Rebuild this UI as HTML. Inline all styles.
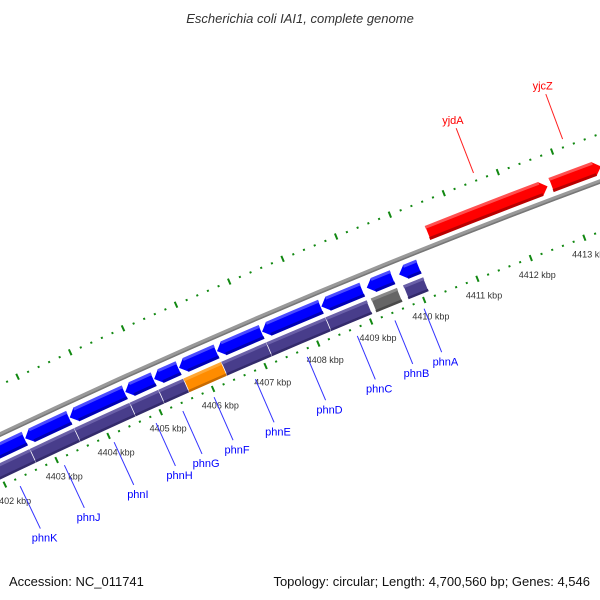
<!DOCTYPE html>
<html><head><meta charset="utf-8"><style>
html,body{margin:0;padding:0;background:#fff}
svg{display:block}
</style></head><body>
<svg id="map" width="600" height="600" viewBox="0 0 600 600" xmlns="http://www.w3.org/2000/svg">
<rect x="0" y="0" width="600" height="600" fill="#fff"/>
<text x="300" y="23" text-anchor="middle" font-family="Liberation Sans, sans-serif" font-size="13" font-style="italic" fill="#333">Escherichia coli IAI1, complete genome</text>
<g id="layer"></g>
<text x="9" y="586" font-family="Liberation Sans, sans-serif" font-size="13" fill="#111">Accession: NC_011741</text>
<text x="590" y="586" text-anchor="end" font-family="Liberation Sans, sans-serif" font-size="13" fill="#111">Topology: circular; Length: 4,700,560 bp; Genes: 4,546</text>
</svg>
<script>
// ---- data ----
const revGeneNames = ["phnK","phnJ","phnI","phnH","phnG","phnF","phnE","phnD","phnC","phnB","phnA"];
const revGeneStarts = [4401800,4402657,4403511,4404573,4405123,4405598,4406318,4407172,4408291,4409145,4409752];
const revGeneEnds   = [4402657,4403511,4404573,4405123,4405598,4406318,4407172,4408291,4409069,4409638,4410131];
const revGeneCog    = ["p","p","p","p","p","o","p","p","p","g","p"];
const fwdGeneNames = ["yjdA","yjcZ"];
const fwdGeneStarts = [4410485,4412780];
const fwdGeneEnds   = [4412723,4413710];
const tickStartBp = 4400000;
const tickEndBp = 4416000;
const minorStepBp = 200;
const majorStepBp = 1000;

// ---- geometry ----
const cx = 3108, cy = 6966;
const refBp = 4410000, refDeg = -21.93, degPerBp = 0.0004567;
function ang(bp){ return (refDeg + (bp - refBp) * degPerBp) * Math.PI / 180; }
function pt(bp, r){ const a = ang(bp); return [cx + r*Math.sin(a), cy - r*Math.cos(a)]; }
function f(p){ return p[0].toFixed(2)+","+p[1].toFixed(2); }
const NS = "http://www.w3.org/2000/svg";
const layer = document.getElementById("layer");
function mk(tag, attrs){ const e = document.createElementNS(NS, tag); for (const k in attrs) e.setAttribute(k, attrs[k]); layer.appendChild(e); return e; }
function arcBand(b1, b2, r0, r1){
  return "M"+f(pt(b1,r1))+" A"+r1+","+r1+" 0 0 1 "+f(pt(b2,r1))+" L"+f(pt(b2,r0))+" A"+r0+","+r0+" 0 0 0 "+f(pt(b1,r0))+" Z";
}
function arrow(b1, b2, r0, r1, dir, head){
  const rm = (r0+r1)/2;
  if (dir < 0){
    const h = Math.min(head, (b2-b1)*0.6);
    return "M"+f(pt(b1+h,r1))+" A"+r1+","+r1+" 0 0 1 "+f(pt(b2,r1))+" L"+f(pt(b2,r0))+" A"+r0+","+r0+" 0 0 0 "+f(pt(b1+h,r0))+" L"+f(pt(b1,rm))+" Z";
  } else {
    const h = Math.min(head, (b2-b1)*0.6);
    return "M"+f(pt(b1,r1))+" A"+r1+","+r1+" 0 0 1 "+f(pt(b2-h,r1))+" L"+f(pt(b2,rm))+" L"+f(pt(b2-h,r0))+" A"+r0+","+r0+" 0 0 0 "+f(pt(b1,r0))+" Z";
  }
}

// ---- tick rings ----
const rings = [7186, 7278];
rings.forEach((rc, ri) => {
  for (let bp = tickStartBp; bp <= tickEndBp; bp += minorStepBp){
    const major = (bp % majorStepBp) === 0;
    const half = major ? 3.2 : 1;
    const p1 = pt(bp, rc - half), p2 = pt(bp, rc + half);
    const t = mk("line", {x1:p1[0], y1:p1[1], x2:p2[0], y2:p2[1], stroke:"#118811", "stroke-width": 2});
    
    
    if (major && ri === 0){
      const lp = pt(bp, 7168);
      const tx = mk("text", {x:lp[0], y:lp[1]+3, "text-anchor":"middle", "font-family":"Liberation Sans, sans-serif", "font-size":"9", fill:"#333"});
      tx.textContent = (bp/1000) + " kbp";
      
      
    }
  }
});

// ---- backbone ----
const bb = mk("path", {d: arcBand(tickStartBp, tickEndBp, 7231, 7235.5), fill:"#999"});


const bb2 = mk("path", {d: arcBand(tickStartBp, tickEndBp, 7231, 7232.5), fill:"#777"});



// ---- reverse genes (blue) + COG (purple) ----
const cogFill = {p:"#483d8b", o:"#ff8c00", g:"#666666"};
const cogLight = {p:"#6a60a8", o:"#ffa733", g:"#888888"};
const cogDark = {p:"#332a6b", o:"#c86a00", g:"#4a4a4a"};
revGeneNames.forEach((name, i) => {
  const b1 = revGeneStarts[i], b2 = revGeneEnds[i];
  const g = mk("path", {d: arrow(b1, b2, 7211.5, 7226.5, -1, 130), fill:"#0000ff", stroke:"#fff", "stroke-width":"0.7"});
  
  
  const hl = mk("path", {d: arcBand(b1+130, b2, 7223.5, 7226.5), fill:"#4b4bff"});
  
  
  const sh = mk("path", {d: arcBand(b1+130, b2, 7211.5, 7214.5), fill:"#0000b4"});
  
  
  const c = revGeneCog[i];
  const cg = mk("path", {d: arcBand(b1, b2, 7192.5, 7207.5), fill:cogFill[c], stroke:"#fff", "stroke-width":"0.7"});
  
  
  const ch = mk("path", {d: arcBand(b1, b2, 7204.5, 7207.5), fill:cogLight[c]});
  
  
  const cs = mk("path", {d: arcBand(b1, b2, 7192.5, 7195), fill:cogDark[c]});
  
  
  const mid = (b1 + b2) / 2;
  const p1 = pt(mid, 7178), p2 = pt(mid, 7131);
  const ln = mk("line", {x1:p1[0], y1:p1[1], x2:p2[0], y2:p2[1], stroke:"#3333ff", "stroke-width":"1"});
  
  
  const lp = pt(mid, 7121);
  const tx = mk("text", {x:lp[0], y:lp[1]+4, "text-anchor":"middle", "font-family":"Liberation Sans, sans-serif", "font-size":"11", fill:"#0000ff"});
  tx.textContent = name;
  
  
});

// ---- forward genes (red) ----
fwdGeneNames.forEach((name, i) => {
  const b1 = fwdGeneStarts[i], b2 = fwdGeneEnds[i];
  const g = mk("path", {d: arrow(b1, b2, 7239.5, 7254.5, 1, 130), fill:"#ff0000", stroke:"#fff", "stroke-width":"0.7"});
  
  
  const hl = mk("path", {d: arcBand(b1, b2-130, 7251.5, 7254.5), fill:"#ff5050"});
  
  
  const sh = mk("path", {d: arcBand(b1, b2-130, 7239.5, 7242.5), fill:"#b80000"});
  
  
  const mid = (b1 + b2) / 2;
  const p1 = pt(mid, 7286), p2 = pt(mid, 7334);
  const ln = mk("line", {x1:p1[0], y1:p1[1], x2:p2[0], y2:p2[1], stroke:"#ff2020", "stroke-width":"1"});
  
  
  const lp = pt(mid, 7343);
  const tx = mk("text", {x:lp[0], y:lp[1]+4, "text-anchor":"middle", "font-family":"Liberation Sans, sans-serif", "font-size":"11", fill:"#ff0000"});
  tx.textContent = name;
  
  
});
</script>
</body></html>
